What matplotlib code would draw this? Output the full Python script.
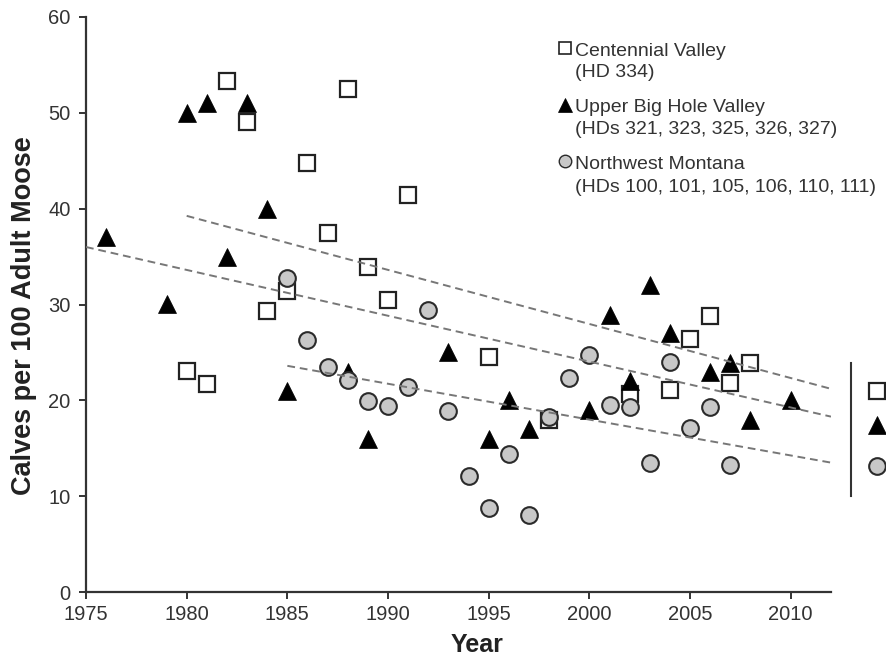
import matplotlib
matplotlib.use('Agg')
import matplotlib.pyplot as plt

plt.rcParams['font.family'] = ['Liberation Sans', 'DejaVu Sans']

# Centennial Valley (HD 334)
cv_years = [1980, 1981, 1982, 1983, 1984, 1985, 1986, 1987, 1988, 1989,
            1990, 1991, 1995, 1998, 2002, 2004, 2005, 2006, 2007, 2008]
cv_ratio = [23.1, 21.7, 53.3, 49.0, 29.3, 31.4, 44.8, 37.5, 52.5, 33.9,
            30.5, 41.4, 24.5, 18.0, 20.7, 21.1, 26.4, 28.8, 21.8, 23.9]

# Upper Big Hole Valley
bh_years = [1976, 1979, 1980, 1981, 1982, 1983, 1984, 1985, 1988, 1989,
            1993, 1995, 1996, 1997, 2000, 2001, 2002, 2003, 2004, 2006,
            2007, 2008, 2010]
bh_ratio = [37.0, 30.1, 50.0, 51.0, 35.0, 51.0, 40.0, 21.0, 23.0, 16.0,
            25.0, 16.0, 20.0, 17.0, 19.0, 28.9, 22.0, 32.0, 27.0, 23.0,
            23.9, 18.0, 20.0]

# Northwest Montana
nw_years = [1985, 1986, 1987, 1988, 1989, 1990, 1991, 1992, 1993, 1994,
            1995, 1996, 1997, 1998, 1999, 2000, 2001, 2002, 2003, 2004,
            2005, 2006, 2007]
nw_ratio = [32.8, 26.3, 23.5, 22.1, 19.9, 19.4, 21.4, 29.4, 18.9, 12.1,
            8.8, 14.4, 8.0, 18.3, 22.3, 24.7, 19.5, 19.3, 13.5, 24.0,
            17.1, 19.3, 13.3]

# trend lines: (start year, end year), (start value, end value)
cv_trend = ([1980, 2012], [39.25, 21.2])
bh_trend = ([1975, 2012], [36.0, 18.3])
nw_trend = ([1985, 2012], [23.6, 13.5])

# summary markers right of the plot
summary_x = 2014.3
summary_vals = [21.0, 17.4, 13.2]
summary_bar = ([2013.0, 2013.0], [10.0, 23.9])

legend_labels = [('Centennial Valley', '(HD 334)'),
                 ('Upper Big Hole Valley', '(HDs 321, 323, 325, 326, 327)'),
                 ('Northwest Montana', '(HDs 100, 101, 105, 106, 110, 111)')]

sq = dict(marker='s', ms=11.5, mfc='white', mec='#222222', mew=1.6, ls='none')
tri = dict(marker='^', ms=12.5, mfc='black', mec='black', mew=0.5, ls='none')
circ = dict(marker='o', ms=12, mfc='#c8c8c8', mec='#2a2a2a', mew=1.5, ls='none')

fig = plt.figure(figsize=(8.87, 6.58), dpi=100)
ax = fig.add_axes([86 / 887, 1 - 592 / 658, 745 / 887, 575 / 658])

ax.plot(cv_years, cv_ratio, zorder=3, **sq)
ax.plot(bh_years, bh_ratio, zorder=4, **tri)
ax.plot(nw_years, nw_ratio, zorder=5, **circ)

for tx, ty in (cv_trend, bh_trend, nw_trend):
    ax.plot(tx, ty, ls=(0, (4, 2.5)), color='#777777', lw=1.4, zorder=6)

ax.plot(summary_bar[0], summary_bar[1], color='#333333', lw=1.5, clip_on=False)
for st, v in zip((sq, tri, circ), summary_vals):
    ax.plot([summary_x], [v], clip_on=False, **st)

ax.set_xlim(1975, 2012)
ax.set_ylim(0, 60)
ax.set_xticks(range(1975, 2011, 5))
ax.set_yticks(range(0, 61, 10))

for s in ('top', 'right'):
    ax.spines[s].set_visible(False)
for s in ('left', 'bottom'):
    ax.spines[s].set_linewidth(1.6)
    ax.spines[s].set_color('#333333')
ax.tick_params(direction='out', length=5, width=1.4, color='#333333',
               labelsize=14.5, labelcolor='#333333')
ax.tick_params(axis='y', pad=6)
ax.tick_params(axis='x', pad=4)

ax.set_xlabel('Year', fontsize=18, fontweight='bold', color='#222222')
ax.xaxis.set_label_coords(0.525, -0.072)
ax.set_ylabel('Calves per 100 Adult Moose', fontsize=19.5, fontweight='bold',
              color='#222222')
ax.yaxis.set_label_coords(-0.066, 0.48)

# legend, drawn by hand so the marker sits on the first line
handles = [dict(sq, ms=9, mew=1.2), dict(tri, ms=10), dict(circ, ms=9, mew=1.0)]
marker_y = [0.946, 0.847, 0.749]
base_y = [(0.932, 0.895), (0.835, 0.797), (0.736, 0.696)]
for h, my, (y1, y2), (l1, l2) in zip(handles, marker_y, base_y, legend_labels):
    ax.plot([0.643], [my], transform=ax.transAxes, clip_on=False, **h)
    ax.text(0.657, y1, l1, transform=ax.transAxes, fontsize=14,
            color='#333333', va='baseline')
    ax.text(0.657, y2, l2, transform=ax.transAxes, fontsize=14,
            color='#333333', va='baseline')

fig.savefig('out.png', dpi=100)
